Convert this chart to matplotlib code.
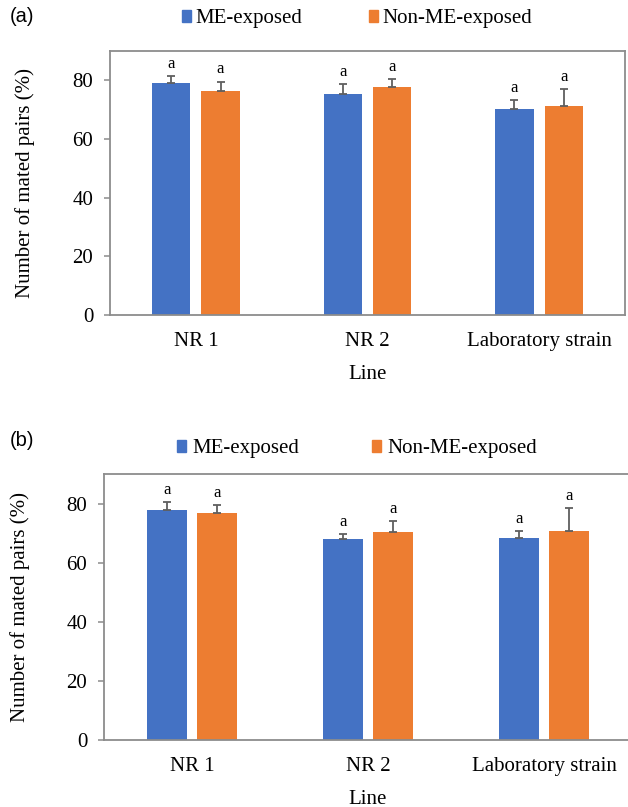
import matplotlib
matplotlib.use("Agg")
import matplotlib.pyplot as plt
from matplotlib.patches import Patch
import numpy as np

plt.rcParams['font.family'] = ['Liberation Serif', 'DejaVu Serif']

lines = ["NR 1", "NR 2", "Laboratory strain"]
series = ["ME-exposed", "Non-ME-exposed"]

# panel (a)
a_me = [79.1, 75.2, 70.2]
a_me_err = [2.3, 3.4, 3.2]
a_non = [76.2, 77.8, 71.3]
a_non_err = [3.4, 2.7, 5.8]

# panel (b)
b_me = [77.7, 67.9, 68.4]
b_me_err = [2.8, 1.8, 2.4]
b_non = [76.8, 70.3, 70.6]
b_non_err = [2.7, 3.7, 7.9]

letters = ["a", "a", "a"]

BLUE = "#4472C4"
ORANGE = "#ED7D31"
GRAY = "#8c8c8c"
ERR = "#5f5f5f"
FS = 15


def draw_panel(ax, me, me_err, non, non_err, width, off):
    x = np.arange(len(lines))
    for vals, errs, pos, col in [(me, me_err, x - off, BLUE), (non, non_err, x + off, ORANGE)]:
        ax.bar(pos, vals, width=width, color=col, zorder=2)
        ax.errorbar(pos, vals, yerr=[np.zeros(len(errs)), errs], fmt="none",
                    ecolor=ERR, elinewidth=1.3, capsize=3, capthick=1.3, zorder=3)
        for p, v, e, t in zip(pos, vals, errs, letters):
            ax.annotate(t, (p, v + e), xytext=(0, 3), textcoords="offset points",
                        ha="center", va="bottom", fontsize=12)
    ax.set_xlim(-0.5, 2.5)
    ax.set_ylim(0, 90)
    ax.set_yticks([0, 20, 40, 60, 80])
    ax.set_xticks(x)
    ax.set_xticklabels(lines)
    ax.tick_params(axis="x", length=0, pad=12, labelsize=FS)
    ax.tick_params(axis="y", length=4, width=1.1, color=GRAY, pad=8, labelsize=FS)
    for s in ax.spines.values():
        s.set_color(GRAY)
        s.set_linewidth(1.3)
    ax.set_xlabel("Line", fontsize=FS, labelpad=10)
    ax.set_ylabel("Number of mated pairs (%)", fontsize=FS)


fig = plt.figure(figsize=(6.28, 8.07), dpi=100)

ax1 = fig.add_axes([110 / 628, 1 - 315 / 807, 515 / 628, 264 / 807])
draw_panel(ax1, a_me, a_me_err, a_non, a_non_err, 0.224, 0.144)
ax1.yaxis.set_label_coords(-0.146, 0.5)

ax2 = fig.add_axes([104 / 628, 1 - 740 / 807, 528 / 628, 266 / 807])
draw_panel(ax2, b_me, b_me_err, b_non, b_non_err, 0.227, 0.142)
ax2.yaxis.set_label_coords(-0.14, 0.5)

handles = [Patch(color=BLUE, label=series[0]), Patch(color=ORANGE, label=series[1])]
fig.legend(handles=handles, loc="center", bbox_to_anchor=(357 / 628, 1 - 19 / 807), ncol=2,
           frameon=False, fontsize=FS, handlelength=0.45, handleheight=0.45,
           handletextpad=0.2, columnspacing=3.2)
fig.legend(handles=handles, loc="center", bbox_to_anchor=(357 / 628, 1 - 449 / 807), ncol=2,
           frameon=False, fontsize=FS, handlelength=0.45, handleheight=0.45,
           handletextpad=0.3, columnspacing=3.5)

fig.text(10 / 628, 1 - 16 / 807, "(a)", family="Liberation Sans", fontsize=14.5, va="center")
fig.text(10 / 628, 1 - 440 / 807, "(b)", family="Liberation Sans", fontsize=14.5, va="center")

fig.savefig("out.png", dpi=100)
